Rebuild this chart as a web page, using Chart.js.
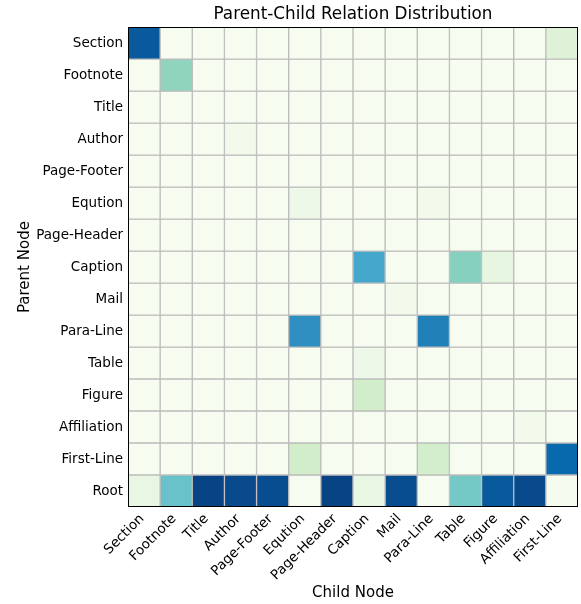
<!DOCTYPE html>
<html>
<head>
<meta charset="utf-8">
<script src="https://cdn.jsdelivr.net/npm/chart.js@4.4.1/dist/chart.umd.min.js"></script>
<style>
  html, body { margin: 0; padding: 0; background: #fff; }
  #wrap { width: 581px; height: 604px; }
</style>
</head>
<body>
<div id="wrap"><canvas id="heat"></canvas></div>
<script>
// child nodes along x, parent nodes down y (top to bottom)
const childNodes = ["Section", "Footnote", "Title", "Author", "Page-Footer", "Eqution", "Page-Header",
  "Caption", "Mail", "Para-Line", "Table", "Figure", "Affiliation", "First-Line"];
const parentNodes = ["Section", "Footnote", "Title", "Author", "Page-Footer", "Eqution", "Page-Header",
  "Caption", "Mail", "Para-Line", "Table", "Figure", "Affiliation", "First-Line", "Root"];

// normalised share per cell, one row per parent node (same order as parentNodes)
const heatValues = [
  [0.92, 0, 0, 0, 0, 0, 0, 0, 0, 0, 0, 0, 0, 0.14],
  [0, 0.44, 0, 0, 0, 0, 0, 0, 0, 0, 0, 0, 0, 0],
  [0, 0, 0, 0, 0, 0, 0, 0, 0, 0, 0, 0, 0, 0],
  [0, 0, 0, 0.03, 0, 0, 0, 0, 0, 0, 0, 0, 0, 0],
  [0, 0, 0, 0, 0, 0, 0, 0, 0, 0, 0, 0, 0, 0],
  [0, 0, 0, 0, 0, 0.05, 0, 0, 0, 0.03, 0, 0, 0, 0],
  [0, 0, 0, 0, 0, 0, 0, 0, 0, 0, 0, 0, 0, 0],
  [0, 0, 0, 0, 0, 0, 0, 0.66, 0, 0, 0.47, 0.09, 0, 0],
  [0, 0, 0, 0, 0, 0, 0, 0, 0.03, 0, 0, 0, 0, 0],
  [0, 0, 0, 0, 0, 0.74, 0, 0, 0, 0.79, 0, 0, 0, 0],
  [0, 0, 0, 0, 0, 0, 0, 0.05, 0, 0, 0, 0, 0, 0],
  [0, 0, 0, 0, 0, 0, 0, 0.22, 0, 0, 0, 0, 0, 0],
  [0, 0, 0, 0, 0, 0, 0, 0, 0, 0, 0, 0, 0.03, 0],
  [0, 0, 0, 0, 0, 0.22, 0, 0, 0, 0.21, 0, 0, 0, 0.87],
  [0.08, 0.55, 0.99, 0.97, 0.96, 0, 0.99, 0.08, 0.96, 0, 0.52, 0.92, 0.97, 0.01]
];

// GnBu colour stops (colorbrewer 9)
const gnbuStops = ["#f7fcf0", "#e0f3db", "#ccebc5", "#a8ddb5", "#7bccc4", "#4eb3d3", "#2b8cbe", "#0868ac", "#084081"];

function hexRgb(h) {
  return [1, 3, 5].map(i => parseInt(h.slice(i, i + 2), 16));
}

function gnbu(v) {
  const t = Math.max(0, Math.min(1, v)) * (gnbuStops.length - 1);
  const i = Math.min(Math.floor(t), gnbuStops.length - 2);
  const f = t - i;
  const a = hexRgb(gnbuStops[i]), b = hexRgb(gnbuStops[i + 1]);
  const c = a.map((x, k) => Math.round(x + (b[k] - x) * f));
  return `rgb(${c[0]},${c[1]},${c[2]})`;
}

const nRows = parentNodes.length;

// each parent row is one dataset of floating bars spanning [row, row+1]
const datasets = parentNodes.map((name, r) => {
  const y0 = nRows - 1 - r;
  return {
    label: name,
    data: childNodes.map(() => [y0, y0 + 1]),
    backgroundColor: heatValues[r].map(gnbu),
    borderColor: "#bcbcbc",
    borderWidth: 1,
    borderSkipped: false,
    grouped: false,
    barPercentage: 1,
    categoryPercentage: 1,
  };
});

// frame round the plot area
const frame = {
  id: "frame",
  afterDatasetsDraw(chart) {
    const { ctx, chartArea: a } = chart;
    ctx.save();
    ctx.strokeStyle = "#000";
    ctx.lineWidth = 1;
    ctx.strokeRect(Math.round(a.left) + 0.5, Math.round(a.top) + 0.5,
      Math.round(a.right - a.left) - 1, Math.round(a.bottom - a.top) - 1);
    ctx.restore();
  },
};

const font = "'DejaVu Sans', sans-serif";

new Chart(document.getElementById("heat"), {
  type: "bar",
  data: { labels: childNodes, datasets },
  plugins: [frame],
  options: {
    responsive: true,
    maintainAspectRatio: false,
    animation: false,
    layout: { padding: { left: 0, right: 3, top: 0, bottom: 0 } },
    plugins: {
      legend: { display: false },
      tooltip: { enabled: false },
      title: {
        display: true,
        fullSize: false, // centre over the plot, not the canvas
        text: "Parent-Child Relation Distribution",
        color: "#000",
        font: { family: font, size: 16.8, weight: "normal" },
        padding: { top: 5, bottom: 2 },
      },
    },
    scales: {
      x: {
        type: "category",
        offset: true,
        grid: { display: false, drawTicks: false },
        border: { display: false },
        ticks: {
          autoSkip: false,
          maxRotation: 45,
          minRotation: 45,
          padding: 4,
          labelOffset: -2,
          color: "#000",
          font: { family: font, size: 13.5 },
        },
        title: {
          display: true,
          text: "Child Node",
          color: "#000",
          font: { family: font, size: 15 },
          padding: { top: 0, bottom: 2 },
        },
        afterFit(s) { s.height = 97; },
      },
      y: {
        type: "linear",
        min: 0,
        max: nRows,
        grid: { display: false, drawTicks: false },
        border: { display: false },
        afterBuildTicks(s) {
          s.ticks = parentNodes.map((_, i) => ({ value: i + 0.5 }));
        },
        ticks: {
          autoSkip: false,
          padding: 5,
          color: "#000",
          font: { family: font, size: 13.5 },
          callback: (v) => parentNodes[nRows - 1 - Math.floor(v)],
        },
        title: {
          display: true,
          text: "Parent Node",
          color: "#000",
          font: { family: font, size: 15 },
          padding: { top: 16, bottom: 0 },
        },
        afterFit(s) { s.width = 128; },
      },
    },
  },
});
</script>
</body>
</html>
